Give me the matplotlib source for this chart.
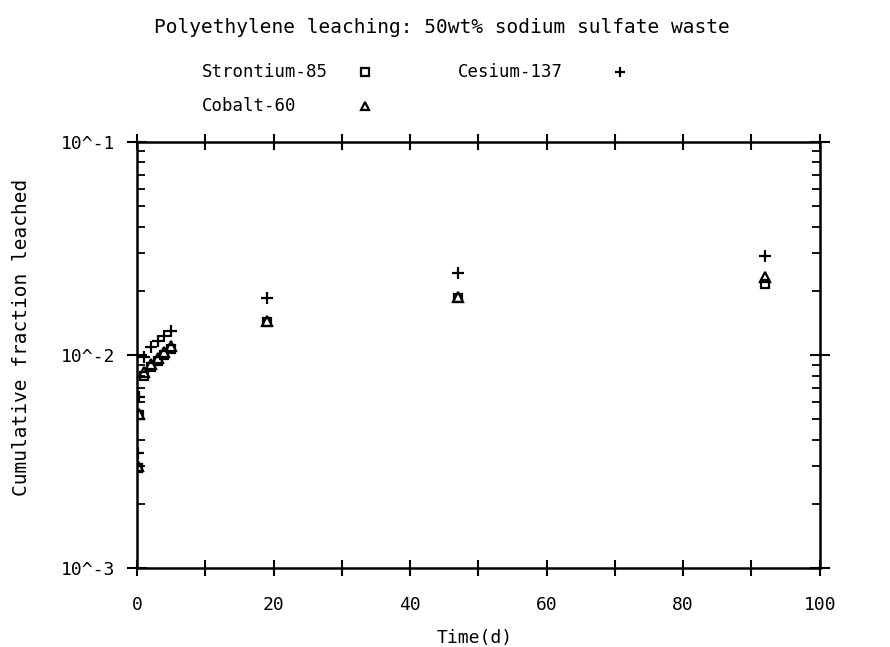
import matplotlib
matplotlib.use("Agg")
import matplotlib.pyplot as plt
from matplotlib.lines import Line2D
from matplotlib.ticker import FixedLocator, FixedFormatter, NullFormatter, LogLocator

# Leach times (days) and cumulative fraction leached
days = [0.083, 0.29, 1, 2, 3, 4, 5, 19, 47, 92]
strontium = [2.95e-3, 5.2e-3, 7.97e-3, 8.78e-3, 9.37e-3, 1.0e-2, 1.067e-2, 1.43e-2, 1.85e-2, 2.15e-2]
cobalt = [3.01e-3, 5.3e-3, 8.32e-3, 9.07e-3, 9.68e-3, 1.033e-2, 1.10e-2, 1.44e-2, 1.87e-2, 2.32e-2]
cesium = [3.47e-3, 6.35e-3, 9.78e-3, 1.09e-2, 1.16e-2, 1.23e-2, 1.30e-2, 1.85e-2, 2.43e-2, 2.92e-2]

x_ticks = [0, 20, 40, 60, 80, 100]
y_ticks = [1e-3, 1e-2, 1e-1]
y_labels = ['10^-3', '10^-2', '10^-1']

font = 'DejaVu Sans Mono'
plt.rcParams['font.family'] = font

fig = plt.figure(figsize=(8.9, 6.47), dpi=100)
ax = fig.add_axes([0.154, 0.122, 0.767, 0.659])

mk = dict(color='black', linestyle='none', markerfacecolor='none', markeredgewidth=1.6)
ax.plot(days, strontium, marker='s', markersize=6, **mk)
ax.plot(days, cobalt, marker='^', markersize=6.5, **mk)
ax.plot(days, cesium, marker='+', markersize=8, **mk)

ax.set_yscale('log')
ax.set_xlim(0, 100)
ax.set_ylim(1e-3, 1e-1)

ax.xaxis.set_major_locator(FixedLocator(x_ticks))
ax.xaxis.set_minor_locator(FixedLocator([10, 30, 50, 70, 90]))
ax.yaxis.set_major_locator(FixedLocator(y_ticks))
ax.yaxis.set_major_formatter(FixedFormatter(y_labels))
ax.yaxis.set_minor_locator(LogLocator(base=10, subs=range(2, 10)))
ax.yaxis.set_minor_formatter(NullFormatter())

ax.tick_params(axis='x', which='both', direction='inout', length=12, width=1.5,
               top=True, bottom=True, labelsize=13, pad=14)
ax.tick_params(axis='y', which='major', direction='inout', length=14, width=1.5,
               left=True, right=True, labelsize=13, pad=9)
ax.tick_params(axis='y', which='minor', direction='in', length=6, width=1.3,
               left=True, right=True)
for s in ax.spines.values():
    s.set_linewidth(1.8)

ax.set_xlabel('Time(d)', fontsize=13)
ax.xaxis.set_label_coords(0.495, -0.143)
ax.set_ylabel('Cumulative fraction leached', fontsize=14)
ax.yaxis.set_label_coords(-0.155, 0.54)

fig.text(0.497, 0.957, 'Polyethylene leaching: 50wt% sodium sulfate waste',
         ha='center', va='center', fontsize=14)

# legend, drawn by hand so the text is left aligned and markers line up
legend_rows = [('Strontium-85', 's', 0.227, 0.410, 0.889),
               ('Cesium-137', '+', 0.515, 0.697, 0.889),
               ('Cobalt-60', '^', 0.227, 0.410, 0.836)]
for label, m, tx, mx, ty in legend_rows:
    fig.text(tx, ty, label, ha='left', va='center', fontsize=12.5)
    fig.add_artist(Line2D([mx], [ty], transform=fig.transFigure, marker=m,
                          markersize=6 if m != '+' else 7, **mk))

fig.savefig('out.png', dpi=100)
